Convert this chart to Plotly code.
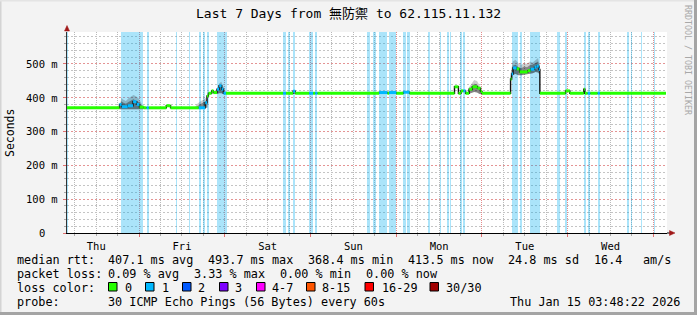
import plotly.graph_objects as go
import pandas as pd

# ---------------- data ----------------
START = "2026-01-08 03:48:22"
END = "2026-01-15 03:48:22"

# median rtt (ms) as step segments: hours since START, value, loss-colour index
med_h = [0.0, 14.7, 15.3, 17.0, 18.5, 19.5, 20.3, 21.5, 22.3, 22.9, 27.8, 29.0,
         36.9, 38.7, 39.2, 39.6, 40.5, 41.0, 42.0, 42.6, 43.3, 43.8, 44.5,
         60.5, 61.3, 63.3, 63.9, 67.8, 68.9, 69.5, 70.1,
         87.4, 89.7, 90.2, 92.2, 94.2, 95.9,
         108.5, 109.6, 110.3, 111.0, 111.6, 112.6, 113.5, 114.9, 115.8, 116.2,
         124.2, 124.5, 124.9, 125.9, 126.7, 129.0, 129.8, 130.9, 131.5, 132.1, 132.4,
         139.6, 140.8, 144.7, 145.0, 145.8, 146.5, 148.6, 149.2, 167.7]
med_ms = [370, 380, 373, 376, 388, 380, 372, 370, 370, 370, 376, 370,
          370, 385, 405, 413, 420, 415, 425, 435, 425, 413, 413,
          413, 413, 419, 413, 413, 413, 413, 413,
          415, 413, 415, 413, 416, 413,
          432, 413, 420, 420, 413, 425, 432, 428, 418, 413,
          455, 470, 488, 485, 476, 480, 484, 490, 493, 483, 413,
          420, 413, 425, 413, 413, 413, 413, 413]
med_loss = [0, 1, 1, 1, 1, 1, 0, 0, 1, 0, 0, 0,
            1, 1, 0, 0, 0, 0, 1, 1, 1, 1, 0,
            1, 0, 1, 0, 1, 0, 1, 0,
            1, 0, 1, 0, 1, 0,
            0, 0, 0, 1, 0, 0, 0, 0, 0, 0,
            0, 1, 1, 0, 0, 0, 1, 1, 1, 1, 0,
            0, 0, 0, 0, 1, 0, 1, 0]

# packet-loss background bands: start (hours since START) and duration (hours)
loss_start_h = [0.0, 15.0, 22.3, 30.5, 34.1, 36.9, 38.0, 39.2, 42.0, 60.5, 61.9, 63.3,
                67.8, 69.5, 84.1, 85.8, 87.4, 90.2, 94.2, 95.3, 101.2, 104.5, 106.5,
                107.1, 109.9, 111.0, 124.5, 126.7, 129.5, 137.1, 139.4, 144.7, 145.8,
                148.6, 156.8, 157.9, 160.7, 164.4]
loss_len_h = [0.3, 6.2, 0.6, 0.35, 0.35, 0.6, 0.6, 0.6, 2.8, 0.85, 0.6, 0.6,
              1.1, 0.6, 0.85, 0.6, 2.3, 2.0, 0.6, 0.6, 0.35, 0.35, 0.35,
              0.35, 0.6, 0.35, 1.7, 0.6, 2.8, 0.85, 0.6, 0.6, 0.6,
              0.6, 0.6, 0.35, 0.35, 0.35]

# smoke (ping spread) envelopes, per region
smoke_h = [[14.7, 15.2, 15.8, 16.5, 17.2, 17.9, 18.6, 19.3, 20.0, 20.7, 21.4],
           [35.8, 36.5, 37.2, 37.9, 38.6, 39.3],
           [42.0, 42.6, 43.2, 43.8, 44.5],
           [112.4, 113.2, 114.0, 114.8, 115.5, 116.1],
           [124.2, 124.8, 125.6, 126.4, 127.2, 128.0, 128.8, 129.6, 130.4, 131.2, 131.9, 132.4]]
smoke_hi = [[372, 400, 394, 390, 398, 402, 408, 404, 398, 386, 372],
            [372, 382, 388, 392, 397, 404],
            [425, 442, 447, 432, 416],
            [428, 442, 452, 449, 437, 415],
            [470, 507, 512, 502, 497, 502, 500, 507, 504, 512, 517, 490]]
smoke_core = [[371, 389, 385, 382, 387, 391, 395, 391, 387, 379, 371],
              [370, 376, 380, 384, 388, 396],
              [420, 437, 439, 425, 414],
              [422, 433, 441, 439, 429, 413],
              [460, 494, 497, 490, 487, 492, 490, 496, 498, 502, 507, 486]]
smoke_lo = [[366, 365, 366, 365, 366, 367, 367, 367, 366, 366, 366],
            [368, 367, 368, 368, 369, 371],
            [411, 413, 414, 411, 410],
            [411, 415, 417, 415, 411, 410],
            [445, 468, 470, 466, 466, 468, 468, 470, 472, 476, 474, 468]]

y_ticks = [0, 100, 200, 300, 400, 500]
y_tick_text = ["0\u00a0\u00a0", "100 m", "200 m", "300 m", "400 m", "500 m"]
Y_MAX = 594

loss_labels = ["0", "1", "2", "3", "4-7", "8-15", "16-29", "30/30"]
loss_colors = ["#26ff00", "#00b8ff", "#0059ff", "#7e00ff", "#ff00ff", "#ff5500", "#ff0000", "#a00000"]

stats_rtt = ["median rtt:", "407.1 ms avg", "493.7 ms max", "368.4 ms min", "413.5 ms now",
             "24.8 ms sd", "16.4", "am/s"]
stats_loss = ["packet loss:", "0.09 % avg", "3.33 % max", "0.00 % min", "0.00 % now"]
probe_text = ["probe:", "30 ICMP Echo Pings (56 Bytes) every 60s"]
stamp = "Thu Jan 15 03:48:22 2026"
title = "Last 7 Days from 無防禦 to 62.115.11.132"

# ---------------- figure ----------------
T0 = pd.Timestamp(START)


def at(h):
    return T0 + pd.to_timedelta(h, unit="h")


W, H = 697, 315
L, R, T, B = 67, 30, 32, 82
PW, PH = W - L - R, H - T - B


def PX(px):
    return (px - L) / PW


def PY(py):
    return (T + PH - py) / PH


MONO = "DejaVu Sans Mono, Noto Sans CJK TC, monospace"

fig = go.Figure()

# loss background bands
fig.add_trace(go.Bar(
    x=[at(s + w / 2) for s, w in zip(loss_start_h, loss_len_h)],
    y=[Y_MAX] * len(loss_start_h),
    width=[w * 3600 * 1000 for w in loss_len_h],
    marker=dict(color="rgba(0,172,240,0.33)", line=dict(width=0)),
    hoverinfo="skip", showlegend=False))

# smoke
for hs, hi, core, lo in zip(smoke_h, smoke_hi, smoke_core, smoke_lo):
    xs = [at(h) for h in hs]
    fig.add_trace(go.Scatter(x=xs + xs[::-1], y=hi + lo[::-1], fill="toself",
                             fillcolor="rgba(0,0,0,0.2)", line=dict(width=0),
                             mode="lines", hoverinfo="skip", showlegend=False))
    fig.add_trace(go.Scatter(x=xs + xs[::-1], y=core + lo[::-1], fill="toself",
                             fillcolor="rgba(0,0,0,0.35)", line=dict(width=0),
                             mode="lines", hoverinfo="skip", showlegend=False))

# median step (dark)
fig.add_trace(go.Scatter(x=[at(h) for h in med_h], y=med_ms + [med_ms[-1]],
                         mode="lines", line=dict(color="#111111", width=1.4, shape="hv"),
                         hoverinfo="skip", showlegend=False))

# loss-coloured median segments
for ci, col in enumerate(loss_colors):
    xs, ys = [], []
    for i in range(len(med_ms)):
        if med_loss[i] == ci:
            xs += [at(med_h[i]), at(med_h[i + 1]), None]
            ys += [med_ms[i], med_ms[i], None]
    if xs:
        fig.add_trace(go.Scatter(x=xs, y=ys, mode="lines",
                                 line=dict(color=col, width=3),
                                 hoverinfo="skip", showlegend=False))

fig.update_xaxes(
    type="date", range=[START, END],
    tick0="2026-01-08", dtick=86400000, tickformat="%a", ticklabelmode="period",
    showgrid=True, gridcolor="#e48a8a", griddash="1px,1px", gridwidth=1,
    ticks="outside", ticklen=3, tickcolor="#e07070",
    minor=dict(dtick=6 * 3600 * 1000, tick0="2026-01-08", showgrid=True,
               gridcolor="#b9b9b9", griddash="1px,1px", ticks="outside", ticklen=2,
               tickcolor="#aaaaaa"),
    showline=True, linecolor="black", linewidth=1,
    tickfont=dict(family=MONO, size=10.5, color="black"),
)
fig.update_yaxes(
    range=[0, Y_MAX], tickmode="linear", tick0=0, dtick=100,
    showgrid=True, gridcolor="#e49494", griddash="2px,2px", gridwidth=1,
    ticks="outside", ticklen=3, tickcolor="#e07070",
    minor=dict(dtick=20, tick0=0, showgrid=True, gridcolor="#c4c4c4", griddash="2px,2px",
               ticks="outside", ticklen=2, tickcolor="#aaaaaa"),
    zeroline=False, showline=True, linecolor="#333333", linewidth=1,
    showticklabels=False,
)

ann = []


def text(px, py, s, size=11.8, anchor="left", color="black", angle=0):
    ann.append(dict(x=PX(px), y=PY(py), xref="paper", yref="paper", text=s,
                    showarrow=False, xanchor=anchor, yanchor="middle",
                    textangle=angle, borderpad=0,
                    font=dict(family=MONO, size=size, color=color)))


# y tick labels placed against the data scale
for v, s in zip(y_ticks, y_tick_text):
    ann.append(dict(x=PX(59), y=v, xref="paper", yref="y", text=s, showarrow=False,
                    xanchor="right", yanchor="middle", borderpad=0,
                    font=dict(family=MONO, size=10.5, color="black")))

text(348, 14, title, size=13, anchor="center")
text(10, 133, "Seconds", size=11.5, anchor="center", angle=-90)
text(688, 60, "RRDTOOL / TOBI OETIKER", size=8.3, anchor="center", color="#a8a8a8", angle=90)

for s, px in zip(stats_rtt, [16, 107, 207, 307, 407, 507, 593, 642]):
    text(px, 260, s)
for s, px in zip(stats_loss, [16, 107, 193, 279, 365]):
    text(px, 274, s)
text(16, 288, "loss color:")
sq_x = [108.5, 145.5, 182.5, 219.5, 256.5, 306.5, 365, 430]
lab_x = [123.5, 160.5, 197, 234, 270.5, 321, 380.5, 445]
shapes = []
for col, lab, sx, lx in zip(loss_colors, loss_labels, sq_x, lab_x):
    shapes.append(dict(type="rect", xref="paper", yref="paper",
                       x0=PX(sx), x1=PX(sx + 8.5), y0=PY(291), y1=PY(282.5),
                       fillcolor=col, line=dict(color="black", width=1)))
    text(lx, 288, lab)
text(16, 302, probe_text[0])
text(107, 302, probe_text[1])
text(681, 302, stamp, anchor="right")

# frame and axis arrows
shapes += [
    dict(type="line", xref="paper", yref="paper", x0=PX(0.5), x1=PX(0.5), y0=PY(0), y1=PY(315),
         line=dict(color="#d4d4d4", width=2)),
    dict(type="line", xref="paper", yref="paper", x0=PX(0), x1=PX(697), y0=PY(0.5), y1=PY(0.5),
         line=dict(color="#e4e4e4", width=2)),
    dict(type="line", xref="paper", yref="paper", x0=PX(695.5), x1=PX(695.5), y0=PY(0), y1=PY(315),
         line=dict(color="#a4a4a4", width=3)),
    dict(type="line", xref="paper", yref="paper", x0=PX(0), x1=PX(697), y0=PY(313.5), y1=PY(313.5),
         line=dict(color="#a4a4a4", width=3)),
    dict(type="line", xref="paper", yref="paper", x0=PX(667), x1=PX(670), y0=PY(233), y1=PY(233),
         line=dict(color="black", width=1)),
    dict(type="path", xref="paper", yref="paper",
         path=f"M {PX(669.5)} {PY(230.5)} L {PX(675)} {PY(233)} L {PX(669.5)} {PY(235.5)} Z",
         fillcolor="#a01818", line=dict(color="#a01818", width=0.5)),
    dict(type="path", xref="paper", yref="paper",
         path=f"M {PX(64.5)} {PY(31)} L {PX(67)} {PY(25.5)} L {PX(69.5)} {PY(31)} Z",
         fillcolor="#a01818", line=dict(color="#a01818", width=0.5)),
]

fig.update_layout(
    width=W, height=H, autosize=False,
    margin=dict(l=L, r=R, t=T, b=B, pad=0),
    paper_bgcolor="#f3f3f3", plot_bgcolor="white",
    showlegend=False, hovermode=False, bargap=0,
    annotations=ann, shapes=shapes,
    font=dict(family=MONO, color="black"),
)

fig.write_html("out.html")
